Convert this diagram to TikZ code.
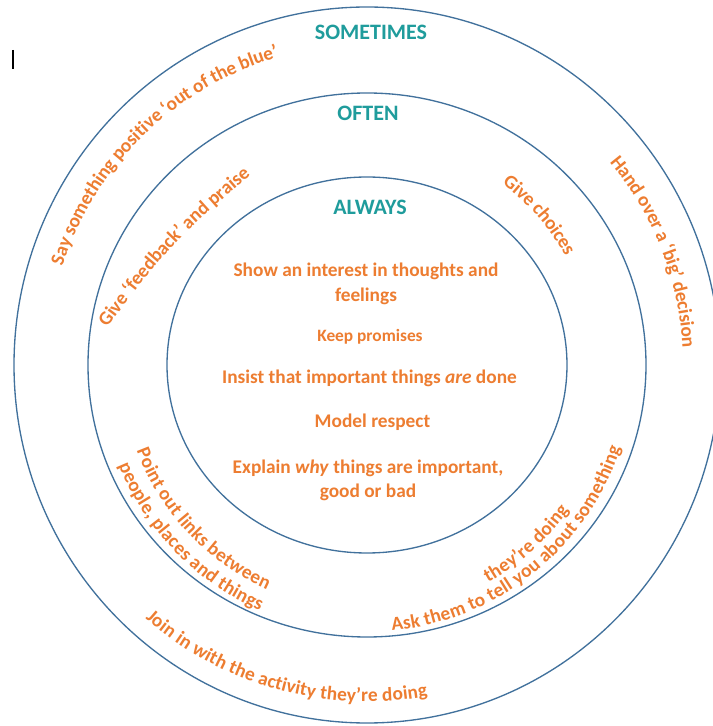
\documentclass[tikz,border=0pt]{standalone}
\usepackage{fontspec}
\setmainfont{Carlito}
\usetikzlibrary{decorations.text}
\definecolor{ringblue}{HTML}{41719C}
\definecolor{headteal}{HTML}{1F9C9C}
\definecolor{txtorange}{HTML}{ED7D31}
\newcommand\curvefont{\bfseries\fontsize{14.5}{17}\selectfont}
\begin{document}
\begin{tikzpicture}[x=0.75pt,y=0.75pt,
  ring/.style={draw=ringblue, line width=1pt},
  heading/.style={text=headteal, font=\bfseries\fontsize{16.5}{20}\selectfont, anchor=base, inner sep=0pt},
  body/.style={text=txtorange, font=\bfseries\fontsize{14.5}{17}\selectfont, anchor=base, inner sep=0pt},
  curvetext/.style={decorate, decoration={text along path, text align=center, raise=-4.4pt, text color=txtorange, text={|\curvefont|#1}}}
]
\useasboundingbox (0,0) rectangle (713,726);
\fill[white] (0,0) rectangle (713,726);
% rings
\coordinate (C) at (367,361);
\draw[ring] (C) ellipse [x radius=353, y radius=358];
\draw[ring] (C) ellipse [x radius=279, y radius=272];
\draw[ring] (C) ellipse [x radius=200, y radius=188];
% cursor mark
\draw[line width=0.8pt] (13,676) -- (13,657);
% headings
\node[heading] (sometimes) at (371,686.7) {SOMETIMES};
\node[heading] (often) at (368,605.3) {OFTEN};
\node[heading] (always) at (370,511) {ALWAYS};
% inner texts
\node[body] (show1) at (366,449) {Show an interest in thoughts and};
\node[body] (show2) at (366,424) {feelings};
\node[body, font=\bfseries\fontsize{13}{16}\selectfont] (keep) at (370,384) {Keep promises};
\node[body] (insist) at (369.5,342.7) {Insist that important things \textit{are} done};
\node[body] (model) at (372.5,298.7) {Model respect};
\node[body] (explain1) at (368,252.7) {Explain \textit{why} things are important,};
\node[body] (explain2) at (368,228) {good or bad};
% curved texts
\path[curvetext={Give ‘feedback’ and praise}] (81.7,374) .. controls (165.8,486.9) .. (273.3,578);
\begin{scope}[shift={(367,361)}]
\path[curvetext={Say something positive ‘out of the blue’}] (169:326) arc[start angle=169, end angle=99, radius=326];
\path[curvetext={Give choices}] (70:232) arc[start angle=70, end angle=12, radius=232];
\path[curvetext={Hand over a ‘big’ decision}] (60:322) arc[start angle=60, end angle=-17, radius=322];
\path[curvetext={Point out links between}] (190:240) arc[start angle=190, end angle=256.4, radius=240];
\path[curvetext={people, places and things}] (189.25:262) arc[start angle=189.25, end angle=259.25, radius=262];
\path[curvetext={Ask them to tell you about something}] (263.6:261) arc[start angle=263.6, end angle=353.6, radius=261];
\path[curvetext={they’re doing}] (286.7:243) arc[start angle=286.7, end angle=336.7, radius=243];
\path[curvetext={Join in with the activity they’re doing}] (219.6:331) arc[start angle=219.6, end angle=289.6, radius=331];
\end{scope}
\end{tikzpicture}
\end{document}
